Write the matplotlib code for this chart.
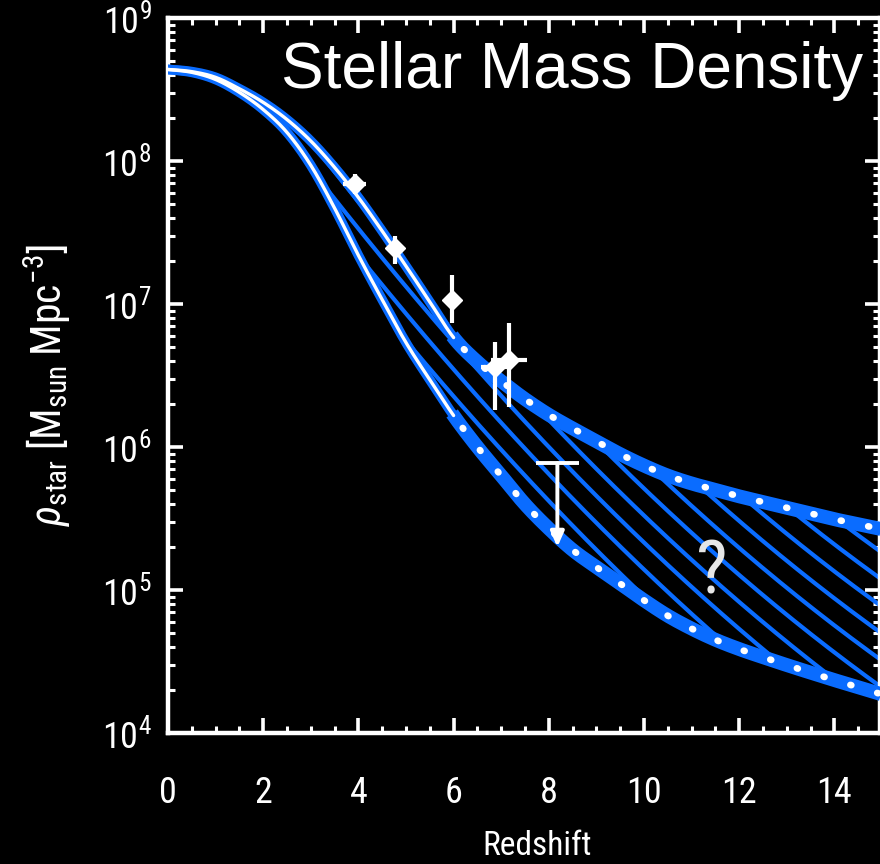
import numpy as np
import matplotlib
matplotlib.use("Agg")
import matplotlib.pyplot as plt
from matplotlib import font_manager as fm
from matplotlib.patches import Polygon
from matplotlib.transforms import Affine2D
from matplotlib.ticker import MultipleLocator, LogLocator, NullFormatter, LogFormatterMathtext

# ---------------- data ----------------
redshift_grid = [0.0, 0.5, 1.0, 1.5, 2.0, 2.5, 3.0, 3.5, 4.0, 4.5, 5.0, 5.5, 6.0,
                 6.5, 7.0, 7.5, 8.0, 8.5, 9.0, 9.5, 10.0, 10.5, 11.0, 11.5, 12.0,
                 12.5, 13.0, 13.5, 14.0, 14.5, 15.0]
upper_log_rho = [8.64, 8.625, 8.585, 8.505, 8.41, 8.29, 8.14, 7.955, 7.745, 7.51, 7.265,
                 7.015, 6.765, 6.595, 6.46, 6.335, 6.225, 6.13, 6.04, 5.95, 5.87, 5.80,
                 5.745, 5.70, 5.655, 5.615, 5.575, 5.535, 5.495, 5.46, 5.425]
lower_log_rho = [8.64, 8.62, 8.57, 8.48, 8.36, 8.20, 7.97, 7.67, 7.34, 7.03, 6.73,
                 6.47, 6.22, 6.00, 5.80, 5.60, 5.43, 5.28, 5.16, 5.045, 4.928, 4.82,
                 4.73, 4.652, 4.587, 4.53, 4.475, 4.422, 4.37, 4.32, 4.27]
solid_until_z = 6.0

obs_z = [3.92, 4.76, 5.97, 6.88, 7.16]
obs_rho = [6.9e7, 2.45e7, 1.07e7, 3.6e6, 4.05e6]
obs_rho_lo = [5.9e7, 1.9e7, 7.4e6, 1.8e6, 1.9e6]
obs_rho_hi = [8.1e7, 3.0e7, 1.6e7, 5.4e6, 7.4e6]
obs_zerr = [0.25, 0.0, 0.0, 0.3, 0.38]

limit_z = 8.18
limit_rho = 7.7e5
limit_arrow_to = 2.0e5
limit_halfwidth = 0.45

question_z, question_rho = 11.43, 10 ** 5.12

title_text = "Stellar Mass Density"
xlabel_text = "Redshift"
ylabel_text = r"$\mathit{\rho}_{\mathrm{star}}$ [M$_{\mathrm{sun}}$ Mpc$^{\mathrm{-3}}$]"
xticks = [0, 2, 4, 6, 8, 10, 12, 14]

# ---------------- fonts ----------------
def pick_narrow():
    entries = []
    for f in fm.fontManager.ttflist:
        w = f.weight
        okw = w in (400, "normal", "regular", "book")
        if f.style == "normal" and okw:
            entries.append((f.name, str(f.stretch)))
    prefs = [("Liberation Sans Narrow", None), ("Arial Narrow", None),
             ("Roboto Condensed", None), ("Noto Sans", "condensed"),
             ("Noto Sans", "semi-condensed"), ("Noto Sans Condensed", None),
             ("DejaVu Sans", "condensed"), ("DejaVu Sans Condensed", None),
             ("Open Sans Condensed", None), ("Open Sans", "condensed")]
    for name, stretch in prefs:
        for en, es in entries:
            if en == name and (stretch is None or es == stretch):
                return en, es
    return None

narrow = pick_narrow()
if narrow:
    FAM, STRETCH = narrow
    LBL = 26
else:
    FAM, STRETCH = "Liberation Sans", "normal"
    LBL = 23
plt.rcParams["font.family"] = [FAM, "Liberation Sans", "DejaVu Sans"]
plt.rcParams["font.stretch"] = STRETCH
plt.rcParams["mathtext.fontset"] = "custom"
plt.rcParams["mathtext.rm"] = f"{FAM}:stretch={STRETCH}"
plt.rcParams["mathtext.it"] = f"{FAM}:italic:stretch={STRETCH}"
plt.rcParams["mathtext.default"] = "regular"

BLUE = "#0a6cff"

def smooth(xs, ys, n=16):
    """Catmull-Rom rendering of the read points (drawing aid only)."""
    P = np.column_stack([xs, ys]).astype(float)
    P = np.vstack([P[0], P, P[-1]])
    out = []
    t = np.linspace(0, 1, n, endpoint=False)[:, None]
    for i in range(1, len(P) - 2):
        p0, p1, p2, p3 = P[i - 1], P[i], P[i + 1], P[i + 2]
        seg = 0.5 * ((2 * p1) + (-p0 + p2) * t + (2 * p0 - 5 * p1 + 4 * p2 - p3) * t ** 2
                     + (-p0 + 3 * p1 - 3 * p2 + p3) * t ** 3)
        out.append(seg)
    out.append(P[-2][None, :])
    S = np.vstack(out)
    return S[:, 0], S[:, 1]

fig = plt.figure(figsize=(8.8, 8.64), dpi=100, facecolor="black")
L_PX, R_PX, T_PX, B_PX = 168, 879.5, 18, 733
ax = fig.add_axes([L_PX / 880, (864 - B_PX) / 864, (R_PX - L_PX) / 880, (B_PX - T_PX) / 864])
ax.set_facecolor("black")
ax.set_yscale("log")
ax.set_xlim(0, (R_PX - L_PX) / 47.6)
ax.set_ylim(1e4, 1e9)

zu, lu = smooth(redshift_grid, upper_log_rho)
zl, ll = smooth(redshift_grid, lower_log_rho)
up = 10 ** lu
lo = 10 ** ll

# hatch region clip path
verts = list(zip(zu, up)) + list(zip(zl[::-1], lo[::-1]))
clip = Polygon(verts, closed=True, transform=ax.transData, facecolor="none", edgecolor="none")
ax.add_patch(clip)

# hatch lines (decorative, drawn in axes pixel space)
W, H = R_PX - L_PX, B_PX - T_PX
htrans = Affine2D().scale(1.0 / W, 1.0 / H) + ax.transAxes
xs_pix = np.linspace(L_PX, R_PX, 200)
def hatch_shape(x):
    return 1.2 * (x - 400) - 0.0005 * (x - 400) ** 2
for n in range(-12, 12):
    yk = 279.45 + 27.0 * n
    ypix = yk + hatch_shape(xs_pix)
    ln, = ax.plot(xs_pix - L_PX, B_PX - ypix, color=BLUE, lw=3.0, transform=htrans, zorder=2,
                  solid_capstyle="butt")
    ln.set_clip_path(clip)

# envelope curves
for zz, vals in ((zu, up), (zl, lo)):
    solid = zz <= solid_until_z
    dotted = zz >= solid_until_z - 0.05
    ax.plot(zz[solid], vals[solid], color=BLUE, lw=7.0, zorder=3, solid_capstyle="round")
    ax.plot(zz[solid], vals[solid], color="white", lw=2.4, zorder=4, solid_capstyle="round")
    ax.plot(zz[dotted], vals[dotted], color=BLUE, lw=10, zorder=3, solid_capstyle="butt")
    ax.plot(zz[dotted], vals[dotted], color="white", lw=4.8, zorder=4,
            linestyle=(1.5, (0.15, 4.05)), dash_capstyle="round")

# observations
yerr = [np.array(obs_rho) - np.array(obs_rho_lo), np.array(obs_rho_hi) - np.array(obs_rho)]
ax.errorbar(obs_z, obs_rho, yerr=yerr, xerr=obs_zerr, fmt="D", color="white", ms=10,
            mec="white", mfc="white", elinewidth=3.0, capsize=0, zorder=6)

# upper limit
ax.plot([limit_z - limit_halfwidth, limit_z + limit_halfwidth], [limit_rho, limit_rho],
        color="white", lw=2.8, zorder=6, solid_capstyle="butt")
ax.annotate("", xy=(limit_z, limit_arrow_to), xytext=(limit_z, limit_rho),
            arrowprops=dict(arrowstyle="-|>,head_length=0.9,head_width=0.4", color="white",
                            lw=2.8, shrinkA=0, shrinkB=0), zorder=6)

ax.text(question_z, question_rho, "?", color="#e6e6e6", fontsize=54, ha="center", va="center",
        zorder=7)

ax.text(0.977, 0.902, title_text, transform=ax.transAxes, ha="right", va="baseline",
        color="white", fontsize=46, family=["Liberation Sans", "DejaVu Sans"],
        fontstretch="normal", zorder=8)

# axes styling
for s in ax.spines.values():
    s.set_color("white")
    s.set_linewidth(3.2)
ax.set_xticks(xticks)
ax.xaxis.set_minor_locator(MultipleLocator(0.5))
ax.yaxis.set_major_locator(LogLocator(base=10, numticks=10))
ax.yaxis.set_minor_locator(LogLocator(base=10, subs=np.arange(2, 10), numticks=20))
ax.yaxis.set_major_formatter(LogFormatterMathtext())
ax.yaxis.set_minor_formatter(NullFormatter())
ax.tick_params(which="both", direction="in", colors="white", top=True, right=True,
               labelsize=LBL)
ax.tick_params(which="major", length=11, width=2.6)
ax.tick_params(which="minor", length=5, width=2.2)
ax.tick_params(axis="x", which="major", pad=30)
ax.tick_params(axis="y", which="major", pad=12)

fig.text(537 / 880, 1 - 846 / 864, xlabel_text, color="white", fontsize=LBL - 2,
         ha="center", va="center")
fig.text(48 / 880, 1 - 385 / 864, ylabel_text, color="white", fontsize=LBL + 4,
         ha="center", va="center", rotation=90)

fig.savefig("out.png", dpi=100, facecolor="black")
